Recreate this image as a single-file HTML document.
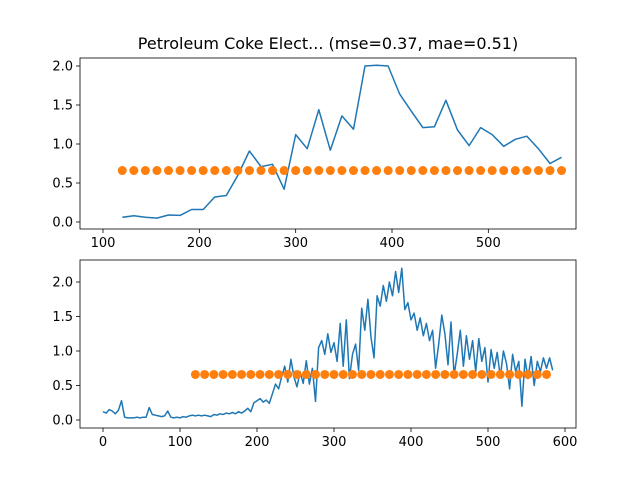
<!DOCTYPE html>
<html><head><meta charset="utf-8"><style>
body{margin:0;background:#fff}
svg{display:block;font-family:"DejaVu Sans","Liberation Sans",sans-serif}
</style></head><body>
<svg id="chart" width="640" height="480">
<text x="328" y="49" font-size="16" text-anchor="middle">Petroleum Coke Elect... (mse=0.37, mae=0.51)</text>
</svg>
<script>
const topX = [120,132,144,156,168,180,192,204,216,228,240,252,264,276,288,300,312,324,336,348,360,372,384,396,408,420,432,444,456,468,480,492,504,516,528,540,552,564,576];
const topActual = [0.06,0.08,0.06,0.05,0.09,0.085,0.16,0.16,0.32,0.34,0.60,0.91,0.71,0.74,0.42,1.12,0.94,1.44,0.92,1.36,1.19,2.0,2.01,2.0,1.64,1.42,1.21,1.22,1.56,1.18,0.98,1.21,1.12,0.97,1.06,1.10,0.94,0.75,0.83];
const predValue = 0.66;
const botX = [0,4,8,12,16,20,24,28,32,36,40,44,48,52,56,60,64,68,72,76,80,84,88,92,96,100,104,108,112,116,120,124,128,132,136,140,144,148,152,156,160,164,168,172,176,180,184,188,192,196,200,204,208,212,216,220,224,228,232,236,240,244,248,252,256,260,264,268,272,276,280,284,288,292,296,300,304,308,312,316,320,324,328,332,336,340,344,348,352,356,360,364,368,372,376,380,384,388,392,396,400,404,408,412,416,420,424,428,432,436,440,444,448,452,456,460,464,468,472,476,480,484,488,492,496,500,504,508,512,516,520,524,528,532,536,540,544,548,552,556,560,564,568,572,576,580,584];
const botActual = [0.12,0.10,0.15,0.13,0.09,0.14,0.28,0.04,0.03,0.03,0.03,0.04,0.03,0.04,0.04,0.18,0.08,0.07,0.06,0.05,0.06,0.13,0.04,0.03,0.04,0.03,0.05,0.04,0.06,0.07,0.06,0.07,0.06,0.07,0.06,0.05,0.08,0.07,0.09,0.08,0.10,0.09,0.11,0.09,0.12,0.10,0.13,0.17,0.12,0.25,0.28,0.31,0.26,0.29,0.24,0.38,0.52,0.45,0.62,0.78,0.55,0.88,0.62,0.48,0.70,0.53,0.86,0.52,0.75,0.27,1.05,1.15,0.95,1.25,0.98,1.12,0.85,1.40,0.78,1.45,0.60,0.95,1.10,0.72,1.62,1.30,1.75,1.20,0.90,1.80,1.65,1.95,1.72,2.00,1.80,2.15,1.85,2.20,1.60,1.70,1.45,1.55,1.30,1.48,1.22,1.40,1.15,1.30,0.75,1.10,1.52,1.25,0.80,1.42,0.65,0.95,1.30,0.78,1.22,0.88,1.15,0.70,1.18,0.85,1.05,0.55,1.02,0.75,0.98,0.62,1.00,0.82,0.45,0.95,0.70,0.85,0.20,0.88,0.60,0.92,0.50,0.85,0.70,0.90,0.75,0.90,0.72];
const topXTicks = [100,200,300,400,500];
const topYTicks = ["0.0","0.5","1.0","1.5","2.0"];
const botXTicks = [0,100,200,300,400,500,600];
const botYTicks = ["0.0","0.5","1.0","1.5","2.0"];

const NS = "http://www.w3.org/2000/svg";
const svg = document.getElementById('chart');
function mk(tag, attrs, parent){const e=document.createElementNS(NS,tag);for(const k in attrs)e.setAttribute(k,attrs[k]);(parent||svg).appendChild(e);return e;}

function panel(name, box, mx, my, xTicks, yTicks, lx, ly, px){
  const g = mk('g',{});
  
  
  const X = v => mx[1] + (v - mx[0])/(mx[2]-mx[0])*(mx[3]-mx[1]);
  const Y = v => my[1] + (v - my[0])/(my[2]-my[0])*(my[3]-my[1]);
  xTicks.forEach(t=>{
    const x=X(t);
    const l=mk('line',{x1:x,x2:x,y1:box.y1,y2:box.y1+4,stroke:'#000','stroke-width':0.8},g);
    
    
    const tx=mk('text',{x:x,y:box.y1+18,'font-size':13,'text-anchor':'middle'},g);
    
    
    tx.textContent=t;
  });
  yTicks.forEach(t=>{
    const y=Y(parseFloat(t));
    const l=mk('line',{x1:box.x0-4,x2:box.x0,y1:y,y2:y,stroke:'#000','stroke-width':0.8},g);
    
    
    const tx=mk('text',{x:box.x0-7,y:y+4.5,'font-size':13,'text-anchor':'end'},g);
    
    
    tx.textContent=t;
  });
  const d = lx.map((v,i)=>(i?'L':'M')+X(v).toFixed(1)+','+Y(ly[i]).toFixed(1)).join('');
  const p=mk('path',{d:d,fill:'none',stroke:'#1f77b4','stroke-width':1.5,'stroke-linejoin':'round'},g);
  
  
  px.forEach(v=>{
    const c=mk('circle',{cx:X(v),cy:Y(predValue),r:4.5,fill:'#ff7f0e'},g);
    
    
  });
  const r=mk('rect',{x:box.x0,y:box.y0,width:box.x1-box.x0,height:box.y1-box.y0,fill:'none',stroke:'#000','stroke-width':0.8},g);
  
  
}
panel('top-panel',{x0:80,x1:576,y0:58,y1:229},[100,103,400,392],[0,222,2,66],topXTicks,topYTicks,topX,topActual,topX);
panel('bottom-panel',{x0:80,x1:576,y0:260,y1:428},[0,103,600,565],[0,420,2,282],botXTicks,botYTicks,botX,botActual,topX);
</script>
</body></html>
